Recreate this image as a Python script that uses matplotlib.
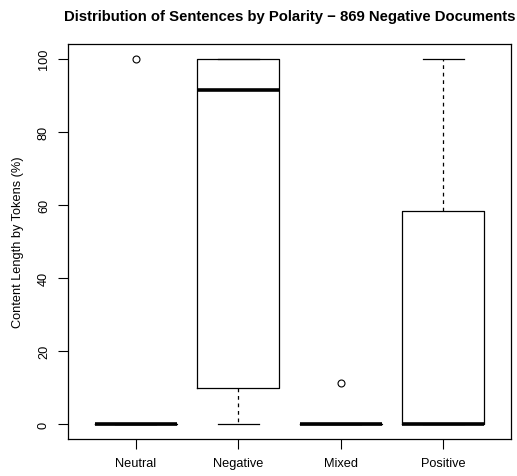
import matplotlib.pyplot as plt

# box statistics
labels = ['Neutral', 'Negative', 'Mixed', 'Positive']
q1 = [0, 10.0, 0, 0]
medians = [0, 91.3, 0, 0]
q3 = [0, 100, 0, 58.3]
whis_lo = [0, 0, 0, 0]
whis_hi = [0, 100, 0, 100]
outliers = [[100], [], [11.2], []]

stats = []
for i in range(len(labels)):
    stats.append({'label': labels[i], 'q1': q1[i], 'med': medians[i], 'q3': q3[i],
                  'whislo': whis_lo[i], 'whishi': whis_hi[i], 'fliers': outliers[i]})

plt.rcParams['font.family'] = ['Liberation Sans', 'DejaVu Sans']

fig = plt.figure(figsize=(5.17, 4.77), dpi=100)
ax = fig.add_axes([68 / 517, 37 / 477, 443 / 517, 395 / 477])

ax.bxp(stats, positions=[1, 2, 3, 4], widths=0.8,
       boxprops=dict(color='black', linewidth=0.9),
       medianprops=dict(color='black', linewidth=2.6, solid_capstyle='butt'),
       whiskerprops=dict(color='black', linewidth=0.9, linestyle=(0, (3, 3))),
       capprops=dict(color='black', linewidth=0.9),
       flierprops=dict(marker='o', markerfacecolor='none', markeredgecolor='black',
                       markersize=5, markeredgewidth=0.8),
       capwidths=0.4)

ax.set_xlim(0.34, 4.66)
ax.set_ylim(-4, 104)
ax.set_yticks([0, 20, 40, 60, 80, 100])
ax.set_yticklabels(['0', '20', '40', '60', '80', '100'], rotation=90, va='center')
ax.tick_params(axis='both', direction='out', length=7, width=0.8, labelsize=9.2, pad=6)
for s in ax.spines.values():
    s.set_linewidth(0.9)
ax.set_ylabel('Content Length by Tokens (%)', fontsize=9.2, labelpad=10)
ax.set_title('Distribution of Sentences by Polarity \u2212 869 Negative Documents',
             fontsize=10.7, fontweight='bold', pad=17)

fig.savefig('out.png', dpi=100)
